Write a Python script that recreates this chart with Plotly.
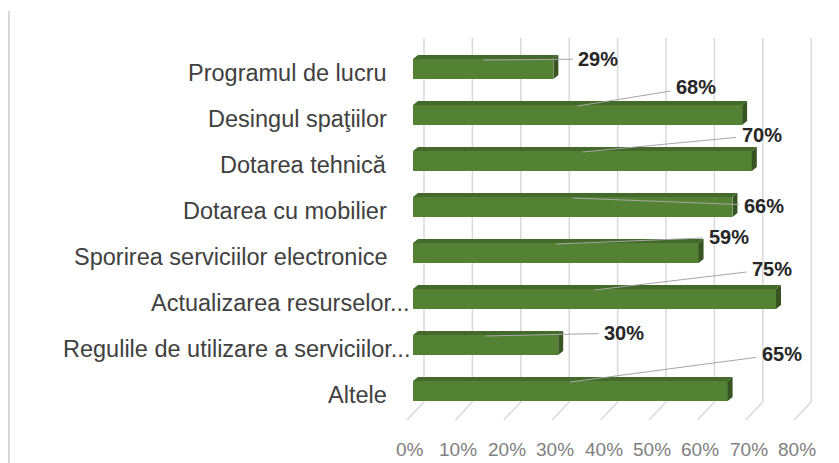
import plotly.graph_objects as go

# ---- data ----
categories = [
    "Programul de lucru",
    "Desingul spaţiilor",
    "Dotarea tehnică",
    "Dotarea cu mobilier",
    "Sporirea serviciilor electronice",
    "Actualizarea resurselor...",
    "Regulile de utilizare a serviciilor...",
    "Altele",
]
values = [29, 68, 70, 66, 59, 75, 30, 65]
tick_values = [0, 10, 20, 30, 40, 50, 60, 70, 80]
tick_labels = ["0%", "10%", "20%", "30%", "40%", "50%", "60%", "70%", "80%"]

# ---- layout geometry (screen pixels) ----
SW, SH = 839, 463          # browser window
OFF = 8                    # default body margin of the html page
W, H = SW - OFF, SH - OFF  # figure size
L, R, T, B = 400, 830, 20, 440
X0 = 413.0        # pixel of 0% on the bar front face
K = 4.84          # pixels per 1%
Y0 = 69.0         # pixel centre of first bar
DY = 46.0         # pixels between bars
BAR_H = 20.0
DEPTH_X, DEPTH_Y = 5.0, 4.0
BACK_DX = 11.0
GRID_TOP, GRID_BOT, FLOOR_BOT, FLOOR_DX = 38, 402, 420, -17

# label offsets (px) relative to bar end / bar centre
label_offsets = [(45, -10), (-46, -28), (10, -26), (32, -1.5),
                 (30, -16), (-4, -30), (66, -12), (54, -37)]
label_right = [389, 389, 389, 389, 389, 412, 412, 389]

def dx(p):   # pixel distance -> x data
    return p / K

def xd(p):   # absolute pixel -> x data
    return (p - X0) / K

def yd(p):   # absolute pixel -> y data
    return (p - Y0) / DY

def xp(p):   # absolute pixel -> paper x
    return (p - L) / (R - L)

def yp(p):   # absolute pixel -> paper y
    return (B - p) / (B - T)

idx = list(range(len(categories)))

fig = go.Figure()
fig.add_trace(go.Bar(
    y=idx, x=values, orientation="h", width=BAR_H / DY,
    marker=dict(color="#548235", line=dict(width=0)),
    hoverinfo="skip", showlegend=False,
))

shapes = []
# back-wall gridlines and floor diagonals
for v in tick_values:
    xb = v + dx(BACK_DX)
    shapes.append(dict(type="line", xref="x", yref="y", x0=xb, x1=xb,
                       y0=yd(GRID_TOP), y1=yd(GRID_BOT),
                       line=dict(color="#d9d9d9", width=1.5), layer="below"))
    shapes.append(dict(type="line", xref="x", yref="y", x0=xb, x1=xb + dx(FLOOR_DX),
                       y0=yd(GRID_BOT), y1=yd(FLOOR_BOT),
                       line=dict(color="#d9d9d9", width=1.5), layer="below"))

# 3D faces of bars
hb = BAR_H / DY / 2
ddx, ddy = dx(DEPTH_X), DEPTH_Y / DY
for i, v in zip(idx, values):
    top = i - hb
    bot = i + hb
    top_path = (f"M 0,{top} L {v},{top} L {v + ddx},{top - ddy} "
                f"L {ddx},{top - ddy} Z")
    side_path = (f"M {v},{top} L {v + ddx},{top - ddy} L {v + ddx},{bot - ddy} "
                 f"L {v},{bot} Z")
    shapes.append(dict(type="path", xref="x", yref="y", path=top_path,
                       fillcolor="#436a2a", line=dict(width=0), layer="above"))
    shapes.append(dict(type="path", xref="x", yref="y", path=side_path,
                       fillcolor="#365521", line=dict(width=0), layer="above"))

# left chart border
shapes.append(dict(type="line", xref="paper", yref="paper",
                   x0=xp(9), x1=xp(9), y0=yp(11), y1=yp(SH),
                   line=dict(color="#d9d9d9", width=2)))

annotations = []
# category labels
for i, c in enumerate(categories):
    annotations.append(dict(
        xref="paper", yref="paper", x=xp(label_right[i]), y=yp(Y0 + DY * i + 4),
        text=c, showarrow=False, xanchor="right", yanchor="middle",
        font=dict(family="Liberation Sans, Arial, sans-serif", size=23.5, color="#404040"),
    ))
# x tick labels
for v, t in zip(tick_values, tick_labels):
    annotations.append(dict(
        xref="paper", yref="paper", x=xp(X0 - 3 + K * v), y=yp(450),
        text=t, showarrow=False, xanchor="center", yanchor="middle",
        font=dict(family="Liberation Sans, Arial, sans-serif", size=19, color="#808080"),
    ))
# data labels with leader lines
for i, v in zip(idx, values):
    ox, oy = label_offsets[i]
    annotations.append(dict(
        xref="x", yref="y", x=v / 2, y=i - 9 / DY,
        ax=K * v / 2 + ox, ay=oy + 9,
        text=f"<b>{v}%</b>", showarrow=True, arrowhead=0, arrowwidth=1,
        arrowcolor="#a6a6a6", startstandoff=4, standoff=0,
        font=dict(family="Liberation Sans, Arial, sans-serif", size=20, color="#262626"),
    ))

fig.update_layout(
    width=W, height=H,
    margin=dict(l=L - OFF, r=SW - R, t=T - OFF, b=SH - B),
    paper_bgcolor="white", plot_bgcolor="white",
    xaxis=dict(range=[xd(L), xd(R)], showgrid=False, zeroline=False,
               showticklabels=False, showline=False, fixedrange=True),
    yaxis=dict(range=[yd(B), yd(T)], showgrid=False, zeroline=False,
               showticklabels=False, showline=False, fixedrange=True),
    shapes=shapes, annotations=annotations, bargap=0,
)

fig.write_html("out.html")
